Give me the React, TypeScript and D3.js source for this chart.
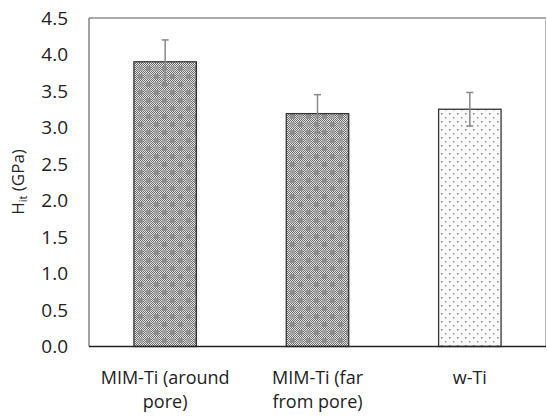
import React from "react";
import * as d3 from "d3";

const categories: string[][] = [["MIM-Ti (around", "pore)"], ["MIM-Ti (far", "from pore)"], ["w-Ti"]];
const values: number[] = [3.9, 3.19, 3.25];
const errors: number[] = [0.3, 0.26, 0.23];
const patterns: string[] = ["pDark", "pDark", "pLight"];
const yTicks: number[] = [0, 0.5, 1, 1.5, 2, 2.5, 3, 3.5, 4, 4.5];

const W = 547, H = 416;
const m = { left: 89, top: 18, right: 546, bottom: 346.5 };
const font = "'Open Sans', sans-serif";

export default function App() {
  const x = d3.scaleBand<number>().domain(d3.range(categories.length)).range([m.left, m.right]).padding(0);
  const y = d3.scaleLinear().domain([0, 4.5]).range([m.bottom, m.top]);
  const bw = x.bandwidth() * 0.41;
  return (
    <svg width={W} height={H} style={{ position: "absolute", left: 0, top: 0 }}>
      <defs>
        <pattern id="pDarkBase" width="2" height="2" patternUnits="userSpaceOnUse">
          <rect width="2" height="2" fill="#e4e4e4" />
          <rect width="1" height="1" fill="#6a6a6a" />
          <rect x="1" y="1" width="1" height="1" fill="#6a6a6a" />
        </pattern>
        <pattern id="pDark" width="16" height="16" patternUnits="userSpaceOnUse">
          <rect width="16" height="16" fill="url(#pDarkBase)" />
          <rect x="2" y="2" width="5" height="5" fill="#8e8e8e" />
          <rect x="10" y="10" width="5" height="5" fill="#8e8e8e" />
          <rect x="10" y="2" width="5" height="5" fill="#a2a2a2" />
          <rect x="2" y="10" width="5" height="5" fill="#a2a2a2" />
        </pattern>
        <pattern id="pLight" width="8" height="8" patternUnits="userSpaceOnUse">
          <rect width="8" height="8" fill="#fafafa" />
          <rect x="1" y="1" width="1.5" height="1.5" fill="#888" />
          <rect x="5" y="5" width="1.5" height="1.5" fill="#999" />
        </pattern>
      </defs>
      <rect width={W} height={H} fill="#fff" />
      <line x1={m.left} x2={m.right} y1={m.top} y2={m.top} stroke="#555" strokeWidth={1} />
      <line x1={m.right - 0.5} x2={m.right - 0.5} y1={m.top} y2={m.bottom} stroke="#bbb" strokeWidth={1} />
      <line x1={m.left} x2={m.left} y1={m.top} y2={m.bottom} stroke="#666" strokeWidth={1.2} />
      {yTicks.map((t) => (
        <text key={t} x={68} y={y(t)} dy="0.35em" textAnchor="end" fontFamily={font} fontSize={19} fill="#222">
          {t.toFixed(1)}
        </text>
      ))}
      {values.map((v, i) => {
        const cx = x(i)! + x.bandwidth() / 2;
        return (
          <g key={i}>
            <rect x={cx - bw / 2} y={y(v)} width={bw} height={y(0) - y(v)} fill={`url(#${patterns[i]})`} stroke="#333" strokeWidth={1.3} />
            <line x1={cx} x2={cx} y1={y(v + errors[i])} y2={y(v - errors[i])} stroke="#888" strokeWidth={1.5} />
            <line x1={cx - 3.5} x2={cx + 3.5} y1={y(v + errors[i])} y2={y(v + errors[i])} stroke="#888" strokeWidth={1.5} />
            <line x1={cx - 3.5} x2={cx + 3.5} y1={y(v - errors[i])} y2={y(v - errors[i])} stroke="#888" strokeWidth={1.5} />
            <text x={cx} y={378} textAnchor="middle" fontFamily={font} fontSize={18} fill="#222">
              {categories[i].map((l, j) => (
                <tspan key={j} x={cx} dy={j === 0 ? "0.35em" : 24}>{l}</tspan>
              ))}
            </text>
          </g>
        );
      })}
      <line x1={m.left} x2={m.right} y1={m.bottom} y2={m.bottom} stroke="#222" strokeWidth={1.3} />
      <text transform={`translate(24,${182}) rotate(-90)`} textAnchor="middle" fontFamily={font} fontSize={17} fill="#222">
        H<tspan fontSize={11} dy={3}>it</tspan><tspan dy={-3}> (GPa)</tspan>
      </text>
    </svg>
  );
}
